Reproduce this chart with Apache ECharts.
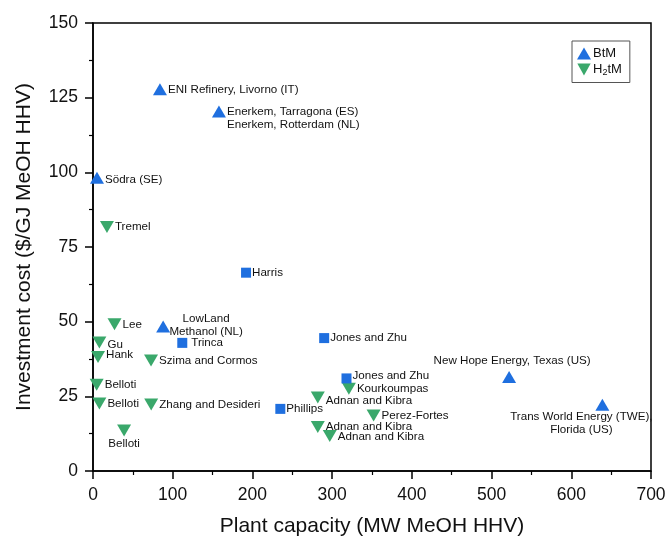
<!DOCTYPE html>
<html>
<head>
<meta charset="utf-8">
<script src="https://cdn.jsdelivr.net/npm/echarts@6/dist/echarts.min.js"></script>
<style>html,body{margin:0;padding:0;background:#fff;}#c{width:669px;height:539px;}</style>
</head>
<body>
<div id="c"></div>
<script>
// ---- data ----
const btmNames = ['ENI Refinery, Livorno (IT)', 'Enerkem, Tarragona (ES)\nEnerkem, Rotterdam (NL)', 'Södra (SE)', 'LowLand\nMethanol (NL)', 'New Hope Energy, Texas (US)', 'Trans World Energy (TWE),\nFlorida (US)'];
const btmX = [84, 158, 5, 88, 522, 639];
const btmY = [127.8, 120.4, 98.2, 48.4, 31.5, 22.2];

const h2tmNames = ['Tremel', 'Lee', 'Gu', 'Hank', 'Szima and Cormos', 'Belloti', 'Belloti', 'Zhang and Desideri', 'Belloti', 'Kourkoumpas', 'Adnan and Kibra', 'Perez-Fortes', 'Adnan and Kibra', 'Adnan and Kibra'];
const h2tmX = [17.5, 27, 8, 6.3, 72.8, 4.6, 8, 73, 39, 321, 282, 352, 282, 297];
const h2tmY = [81.7, 49.1, 43, 38.2, 37, 28.9, 22.6, 22.3, 13.6, 27.5, 24.6, 18.6, 14.7, 11.7];

const otherNames = ['Harris', 'Trinca', 'Jones and Zhu', 'Jones and Zhu', 'Phillips'];
const otherX = [192, 112, 290, 318, 235];
const otherY = [66.4, 42.9, 44.5, 31, 20.8];

const xTicks = [0, 100, 200, 300, 400, 500, 600, 700];
const yTicks = [0, 25, 50, 75, 100, 125, 150];

// ---- label placement (style, separate from data) ----
const btmLabelStyle = {
  1: { offset: [0, 7] },
  2: { offset: [0, 2] },
  3: { position: 'inside', align: 'center', offset: [43, -1] },
  4: { position: 'top', distance: 4, offset: [3, 0] },
  5: { position: 'bottom', distance: 0, offset: [-21, 0], align: 'center' }
};
const h2tmLabelStyle = {
  2: { offset: [0, 2] },
  3: { offset: [0, -2] },
  8: { position: 'bottom', distance: 1 },
  10: { offset: [0, 3] },
  13: { offset: [0, 1] }
};
const otherLabelStyle = {
  1: { distance: 4 },
  3: { offset: [0, -3] }
};

const FONT = 'Liberation Sans, Arial, sans-serif';
const BLUE = '#1f6fdf';
const GREEN = '#3aa86b';

function build(names, xs, ys, styles) {
  return names.map((n, i) => {
    const item = { name: n, value: [xs[i], ys[i]] };
    if (styles[i]) item.label = Object.assign({}, styles[i]);
    return item;
  });
}

const baseLabel = {
  show: true,
  position: 'right',
  distance: 1,
  formatter: p => p.name,
  fontFamily: FONT,
  fontSize: 11.6,
  color: '#111',
  lineHeight: 13
};

const chart = echarts.init(document.getElementById('c'), null, { renderer: 'canvas' });
chart.setOption({
  animation: false,
  backgroundColor: '#fff',
  grid: { left: 93, right: 18, top: 23, bottom: 68, containLabel: false, outerBoundsMode: 'none', show: true, borderColor: '#000', borderWidth: 1.5, backgroundColor: 'transparent' },
  legend: {
    orient: 'vertical',
    left: 572,
    top: 41,
    padding: [6, 8, 5, 5],
    itemGap: 3,
    itemWidth: 14,
    itemHeight: 12,
    borderColor: '#555',
    borderWidth: 1,
    data: [
      { name: 'BtM', icon: 'triangle' },
      { name: 'H2tM', icon: 'path://M0,0L10,0L5,9Z' }
    ],
    formatter: n => n === 'H2tM' ? 'H{sub|2}tM' : n,
    textStyle: {
      fontFamily: FONT, fontSize: 13, color: '#111', padding: [0, 0, 0, -3],
      rich: { sub: { fontFamily: FONT, fontSize: 9, padding: [7, 0, 0, 0], color: '#111' } }
    }
  },
  xAxis: {
    type: 'value', min: xTicks[0], max: xTicks[xTicks.length - 1], interval: 100,
    name: 'Plant capacity (MW MeOH HHV)', nameLocation: 'middle', nameGap: 45,
    nameTextStyle: { fontFamily: FONT, fontSize: 21, color: '#111' },
    axisLine: { lineStyle: { color: '#000', width: 1.5 } },
    axisTick: { show: true, length: 8, lineStyle: { color: '#000', width: 1.5 } },
    minorTick: { show: true, splitNumber: 2, length: 4, lineStyle: { color: '#000', width: 1.2 } },
    axisLabel: { fontFamily: FONT, fontSize: 17.5, color: '#111', margin: 15 },
    splitLine: { show: false }
  },
  yAxis: {
    type: 'value', min: yTicks[0], max: yTicks[yTicks.length - 1], interval: 25,
    name: 'Investment cost ($/GJ MeOH HHV)', nameLocation: 'middle', nameGap: 58,
    nameTextStyle: { fontFamily: FONT, fontSize: 21, color: '#111' },
    axisLine: { lineStyle: { color: '#000', width: 1.5 } },
    axisTick: { show: true, length: 8, lineStyle: { color: '#000', width: 1.5 } },
    minorTick: { show: true, splitNumber: 2, length: 4, lineStyle: { color: '#000', width: 1.2 } },
    axisLabel: { fontFamily: FONT, fontSize: 17.5, color: '#111', margin: 15 },
    splitLine: { show: false }
  },
  series: [
    {
      name: 'BtM', type: 'scatter', symbol: 'triangle', symbolSize: [14, 12],
      itemStyle: { color: BLUE, opacity: 1 },
      label: baseLabel,
      data: build(btmNames, btmX, btmY, btmLabelStyle),
      z: 3
    },
    {
      name: 'H2tM', type: 'scatter', symbol: 'path://M0,0L10,0L5,9Z', symbolSize: [14, 12],
      itemStyle: { color: GREEN, opacity: 1 },
      label: baseLabel,
      data: build(h2tmNames, h2tmX, h2tmY, h2tmLabelStyle),
      z: 3
    },
    {
      name: 'Other', type: 'scatter', symbol: 'rect', symbolSize: 10,
      itemStyle: { color: BLUE, opacity: 1 },
      label: baseLabel,
      data: build(otherNames, otherX, otherY, otherLabelStyle),
      z: 3
    }
  ]
});
</script>
</body>
</html>
